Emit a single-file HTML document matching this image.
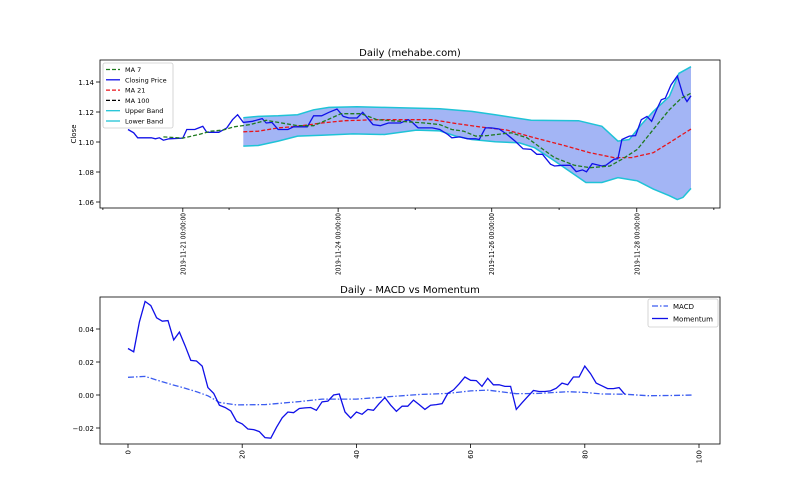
<!DOCTYPE html>
<html><head><meta charset="utf-8"><style>
body{margin:0;background:#fff}
svg{display:block;font-family:"DejaVu Sans","Liberation Sans",sans-serif}
</style></head><body>
<svg id="chart" width="800" height="500" viewBox="0 0 800 500">
<rect width="800" height="500" fill="#fff"/>
</svg>
<script>
// ---- top chart data (index, value) ----
const closeIdx=[0,1,1.7,4.1,4.8,5.5,6.2,7.2,9.6,10.3,11.7,12.4,13.1,13.8,15.9,17.3,18.3,19.2,20.2,21.8,23.5,24.2,25.2,26.3,28,29,31.4,32.5,33.9,35.2,36.6,37.7,38.7,40.1,41.1,42.9,44.2,45.6,47.7,48.4,49.1,49.8,50.8,53.3,54.6,56,56.7,58.1,59.5,60.9,61.5,62.6,63.6,65,66.4,67.8,69.2,70.6,71.6,72.6,74,74.7,76.1,77.5,78.5,79.6,80.3,81.3,83,83.7,85.1,85.8,86.5,87.8,88.9,89.9,90.9,91.7,92.7,93.4,94.1,95.1,96.2,97.2,97.9,98.6];
const closeVal=[1.1083,1.1061,1.1028,1.1028,1.1021,1.1028,1.1012,1.1021,1.1026,1.1083,1.1083,1.1094,1.1105,1.1065,1.1065,1.1094,1.1149,1.1182,1.1131,1.1138,1.1156,1.1127,1.1131,1.1083,1.1083,1.1101,1.1101,1.1175,1.1175,1.1198,1.1220,1.1171,1.1160,1.1160,1.1198,1.1116,1.1109,1.1127,1.1127,1.1138,1.1149,1.1131,1.1094,1.1094,1.1083,1.1050,1.1028,1.1034,1.1021,1.1021,1.1017,1.1094,1.1094,1.1087,1.1050,1.1006,1.0955,1.0951,1.0918,1.0918,1.0852,1.0840,1.0845,1.0845,1.0803,1.0814,1.0801,1.0856,1.0840,1.0845,1.0885,1.0889,1.1017,1.1039,1.1043,1.1149,1.1171,1.1138,1.1226,1.1281,1.1292,1.1380,1.1440,1.1314,1.1270,1.1308];
const ma7Idx=[6.2,9.6,12.4,14.5,16.6,18.6,21.4,24.2,26.3,29.7,32.5,35.2,37.3,40.8,43.6,47.7,51.9,54.6,56.7,58.8,60.9,62.9,67.1,69.9,71.9,74.7,78.2,80.9,84.4,86.5,89.2,92,94.8,96.9,98.6];
const ma7Val=[1.1034,1.1026,1.1050,1.1072,1.1079,1.1101,1.1116,1.1145,1.1131,1.1109,1.1109,1.1153,1.1189,1.1189,1.1149,1.1138,1.1127,1.1116,1.1083,1.1072,1.1039,1.1043,1.1061,1.1028,1.0973,1.0896,1.0845,1.0829,1.0840,1.0885,1.0951,1.1083,1.1215,1.1292,1.1325];
const ma21Idx=[20.2,22.8,26.3,29.7,33.9,38,43.6,49.1,53.3,57.4,61.5,66.4,71.2,76.8,80.9,85.1,88.2,92,94.8,98.6];
const ma21Val=[1.1068,1.1072,1.1094,1.1105,1.1127,1.1142,1.1149,1.1149,1.1149,1.1123,1.1101,1.1079,1.1028,1.0973,1.0929,1.0896,1.0896,1.0929,1.0995,1.1087];
const upIdx=[20.2,22.8,26.3,29.7,32.5,35.2,40.1,44.9,54.6,60.2,64.3,70.6,78.9,83,85.8,87.8,89.9,92,94.8,96.5,98.6];
const upVal=[1.1162,1.1171,1.1175,1.1182,1.1215,1.1231,1.1235,1.1231,1.1222,1.1204,1.1182,1.1145,1.1142,1.1105,1.1006,1.1017,1.1116,1.1204,1.1303,1.1458,1.1502];
const loIdx=[20.2,22.8,26.3,29.7,33.9,39.4,44.9,50.5,54.6,57.4,60.2,64.3,68.5,71.2,74.7,80.2,83,85.8,89.2,92,94.8,96.2,97.2,98.6];
const loVal=[1.0973,1.0977,1.1006,1.1039,1.1045,1.1054,1.1050,1.1079,1.1074,1.1039,1.1017,1.1001,1.0995,1.0962,1.0874,1.0730,1.0730,1.0763,1.0741,1.0686,1.0642,1.0616,1.0631,1.0691];
const topYTicks=[1.06,1.08,1.10,1.12,1.14];
const dateTickIdx=[9.6,36.8,63.7,89.1];
const dateTickLabels=["2019-11-21 00:00:00","2019-11-24 00:00:00","2019-11-26 00:00:00","2019-11-28 00:00:00"];
const minorTickIdx=[-4.4,17.7,50.3,75.5,102.6];
// ---- bottom chart data ----
const momVal=[0.0282,0.0262,0.0443,0.0567,0.0542,0.0468,0.0447,0.0451,0.0334,0.0381,0.0299,0.0210,0.0206,0.0175,0.0045,0.0010,-0.0062,-0.0076,-0.0097,-0.0159,-0.0175,-0.0206,-0.0210,-0.0222,-0.0258,-0.0262,-0.0196,-0.0138,-0.0103,-0.0107,-0.0082,-0.0078,-0.0076,-0.0093,-0.0041,-0.0037,0.0000,0.0006,-0.0103,-0.0140,-0.0103,-0.0117,-0.0087,-0.0093,-0.0052,-0.0016,-0.0062,-0.0099,-0.0068,-0.0068,-0.0031,-0.0058,-0.0087,-0.0062,-0.0058,-0.0052,0.0010,0.0031,0.0068,0.0109,0.0089,0.0087,0.0052,0.0101,0.0062,0.0062,0.0052,0.0052,-0.0087,-0.0047,-0.0010,0.0027,0.0021,0.0021,0.0025,0.0041,0.0072,0.0062,0.0109,0.0109,0.0175,0.0130,0.0072,0.0056,0.0039,0.0039,0.0045,0.0004];
const macdIdx=[0,3,6,8,10,12,14,16,19,24,30,34,40,45,51,56,60,63,68,72,77,80,83,87,91,95,99];
const macdVal=[0.0107,0.0113,0.0080,0.0060,0.0041,0.0020,-0.0005,-0.0045,-0.0060,-0.0058,-0.0040,-0.0025,-0.0025,-0.0012,0.0003,0.0010,0.0025,0.0030,0.0008,0.0010,0.0020,0.0016,0.0006,0.0005,-0.0004,-0.0003,0.0000];
const botYTicks=[-0.02,0.00,0.02,0.04];
const botXTicks=[0,20,40,60,80,100];

const svg=document.getElementById('chart');
const NS='http://www.w3.org/2000/svg';
function el(tag,attrs,parent,text){const e=document.createElementNS(NS,tag);for(const k in attrs)e.setAttribute(k,attrs[k]);if(text!==undefined)e.textContent=text;(parent||svg).appendChild(e);return e;}
const xI=i=>128+i*5.71;
const yT=v=>202-(v-1.06)*(120/0.08);
const yB=v=>395-v*(33/0.02);
function pts(xs,ys,fx,fy){return xs.map((x,k)=>fx(x).toFixed(1)+','+fy(ys[k]).toFixed(1)).join(' ');}

// top axes
const gTop=el('g',{});


let t=el('text',{x:410,y:56,'text-anchor':'middle','font-size':10,fill:'#000'},gTop,'Daily (mehabe.com)');

const band=el('polygon',{points:pts(upIdx,upVal,xI,yT)+' '+pts(loIdx.slice().reverse(),loVal.slice().reverse(),xI,yT),fill:'#a3b5f5',stroke:'none'},gTop);

let l=el('polyline',{points:pts(upIdx,upVal,xI,yT),fill:'none',stroke:'#1fc3d6','stroke-width':1.5},gTop);

l=el('polyline',{points:pts(loIdx,loVal,xI,yT),fill:'none',stroke:'#1fc3d6','stroke-width':1.5},gTop);

l=el('polyline',{points:pts(ma21Idx,ma21Val,xI,yT),fill:'none',stroke:'#e8141a','stroke-width':1.3,'stroke-dasharray':'4,2'},gTop);

l=el('polyline',{points:pts(closeIdx,closeVal,xI,yT),fill:'none',stroke:'#1010e8','stroke-width':1.3},gTop);

l=el('polyline',{points:pts(ma7Idx,ma7Val,xI,yT),fill:'none',stroke:'#1f7a1f','stroke-width':1.3,'stroke-dasharray':'4,2'},gTop);

let r=el('rect',{x:100,y:60,width:620,height:148,fill:'none',stroke:'#000','stroke-width':0.8},gTop);

topYTicks.forEach(v=>{const y=yT(v);el('line',{x1:96,x2:100,y1:y,y2:y,stroke:'#000','stroke-width':0.8},gTop);
 const tx=el('text',{x:94,y:y+3,'text-anchor':'end','font-size':7,fill:'#000'},gTop,v.toFixed(2));
 });
t=el('text',{transform:'translate(76,134) rotate(-90)','text-anchor':'middle','font-size':7,fill:'#000'},gTop,'Close');

dateTickIdx.forEach((i,k)=>{const x=xI(i);el('line',{x1:x,x2:x,y1:208,y2:212,stroke:'#000','stroke-width':0.8},gTop);
 const tx=el('text',{transform:`translate(${x+2.5},213) rotate(-90)`,'text-anchor':'end','font-size':7,textLength:62,lengthAdjust:'spacingAndGlyphs',fill:'#000'},gTop,dateTickLabels[k]);
 });
minorTickIdx.forEach(i=>{const x=xI(i);el('line',{x1:x,x2:x,y1:208,y2:210,stroke:'#000','stroke-width':0.8},gTop);});
// top legend
const lg=el('g',{},gTop);

el('rect',{x:103,y:63,width:70,height:65,rx:2,fill:'#fff','fill-opacity':0.85,stroke:'#ccc','stroke-width':0.8},lg);
const legItems=[['MA 7','#1f7a1f','4,2'],['Closing Price','#1010e8',''],['MA 21','#e8141a','4,2'],['MA 100','#000','4,2'],['Upper Band','#1fc3d6',''],['Lower Band','#1fc3d6','']];
legItems.forEach((it,k)=>{const y=69.5+k*10.3;const g=el('g',{},lg);
 
 const a={x1:106,x2:120,y1:y,y2:y,stroke:it[1],'stroke-width':1.3};if(it[2])a['stroke-dasharray']=it[2];el('line',a,g);
 el('text',{x:125,y:y+2.5,'font-size':6.5,fill:'#000'},g,it[0]);});

// bottom axes
const gB=el('g',{});

t=el('text',{x:410,y:293,'text-anchor':'middle','font-size':10,fill:'#000'},gB,'Daily - MACD vs Momentum');

l=el('polyline',{points:pts(macdIdx,macdVal,xI,yB),fill:'none',stroke:'#3b5cf0','stroke-width':1.3,'stroke-dasharray':'6,2,1.5,2'},gB);

l=el('polyline',{points:pts(momVal.map((v,k)=>k),momVal,xI,yB),fill:'none',stroke:'#1010e8','stroke-width':1.3},gB);

r=el('rect',{x:100,y:297,width:620,height:147,fill:'none',stroke:'#000','stroke-width':0.8},gB);

botYTicks.forEach(v=>{const y=yB(v);el('line',{x1:96,x2:100,y1:y,y2:y,stroke:'#000','stroke-width':0.8},gB);
 const tx=el('text',{x:94,y:y+3,'text-anchor':'end','font-size':7,fill:'#000'},gB,(v<0?'\u2212':'')+Math.abs(v).toFixed(2));
 });
botXTicks.forEach(v=>{const x=xI(v);el('line',{x1:x,x2:x,y1:444,y2:448,stroke:'#000','stroke-width':0.8},gB);
 const tx=el('text',{transform:`translate(${x+2.5},450) rotate(-90)`,'text-anchor':'end','font-size':7,fill:'#000'},gB,String(v));
 });
const lg2=el('g',{},gB);

el('rect',{x:648,y:299,width:70,height:28,rx:2,fill:'#fff','fill-opacity':0.85,stroke:'#ccc','stroke-width':0.8},lg2);
[['MACD','#3b5cf0','6,2,1.5,2'],['Momentum','#1010e8','']].forEach((it,k)=>{const y=306+k*12.5;const g=el('g',{},lg2);
 
 const a={x1:652,x2:668,y1:y,y2:y,stroke:it[1],'stroke-width':1.3};if(it[2])a['stroke-dasharray']=it[2];el('line',a,g);
 el('text',{x:673,y:y+3,'font-size':7,fill:'#000'},g,it[0]);});
</script>
</body></html>
